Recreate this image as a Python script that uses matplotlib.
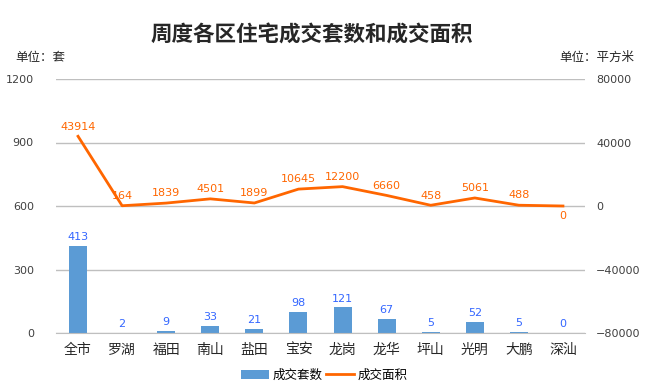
import matplotlib.pyplot as plt
import numpy as np

plt.rcParams['font.family'] = ['Noto Sans CJK SC', 'DejaVu Sans']

# 数据
districts = ['全市', '罗湖', '福田', '南山', '盐田', '宝安', '龙岗', '龙华', '坪山', '光明', '大鹏', '深汕']
units = [413, 2, 9, 33, 21, 98, 121, 67, 5, 52, 5, 0]
area = [43914, 164, 1839, 4501, 1899, 10645, 12200, 6660, 458, 5061, 488, 0]

bar_color = '#5B9BD5'
line_color = '#FF6600'
grid_color = '#BFBFBF'
tick_color = '#404040'
num_font = 'DejaVu Sans'

fig = plt.figure(figsize=(6.49, 3.89), dpi=100)
ax = fig.add_axes([56 / 649, 1 - 333 / 389, 529 / 649, 254 / 389])
ax2 = ax.twinx()

x = np.arange(len(districts))

# 柱状图：成交套数
ax.bar(x, units, width=0.41, color=bar_color, label='成交套数', zorder=2)
for i, v in enumerate(units):
    ax.text(i, v + 18, str(v), ha='center', va='bottom', fontsize=8, color='#3366FF',
            family=num_font)

ax.set_ylim(0, 1200)
ax.set_yticks([0, 300, 600, 900, 1200])
ax.set_xlim(-0.5, len(districts) - 0.5)
ax.set_xticks(x)
ax.set_xticklabels(districts)
ax.yaxis.grid(True, color=grid_color, linewidth=1)
ax.set_axisbelow(True)

# 折线图：成交面积
ax2.plot(x, area, color=line_color, linewidth=2, label='成交面积', zorder=3)
for i, v in enumerate(area):
    if v == 0:
        ax2.text(i, v - 3000, str(v), ha='center', va='top', fontsize=8, color=line_color,
                 family=num_font)
    else:
        ax2.text(i, v + 3000, str(v), ha='center', va='bottom', fontsize=8, color=line_color,
                 family=num_font)
ax2.set_ylim(-80000, 80000)
ax2.set_yticks([-80000, -40000, 0, 40000, 80000])

for a in (ax, ax2):
    for s in a.spines.values():
        s.set_visible(False)
    a.tick_params(length=0, labelsize=8, colors=tick_color)
    for lab in a.get_yticklabels():
        lab.set_family(num_font)
ax.tick_params(axis='x', pad=7, labelsize=10, colors='#262626')
ax.spines['bottom'].set_visible(True)
ax.spines['bottom'].set_color(grid_color)
ax.tick_params(axis='y', pad=16)
ax2.tick_params(axis='y', pad=8)

fig.text(0.48, 1 - 35 / 389, '周度各区住宅成交套数和成交面积', ha='center', va='center',
         fontsize=15.5, fontweight='bold', color='#262626')
fig.text(15 / 649, 1 - 57 / 389, '单位：套', ha='left', va='center', fontsize=9, color='#262626')
fig.text(634 / 649, 1 - 57 / 389, '单位：平方米', ha='right', va='center', fontsize=9, color='#262626')

h1, l1 = ax.get_legend_handles_labels()
h2, l2 = ax2.get_legend_handles_labels()
fig.legend(h1 + h2, l1 + l2, loc='center', bbox_to_anchor=(0.5, 1 - 375 / 389), ncol=2,
           frameon=False, fontsize=9, handlelength=2.2, columnspacing=0.3, handletextpad=0.3)

fig.savefig('out.png', dpi=100)
